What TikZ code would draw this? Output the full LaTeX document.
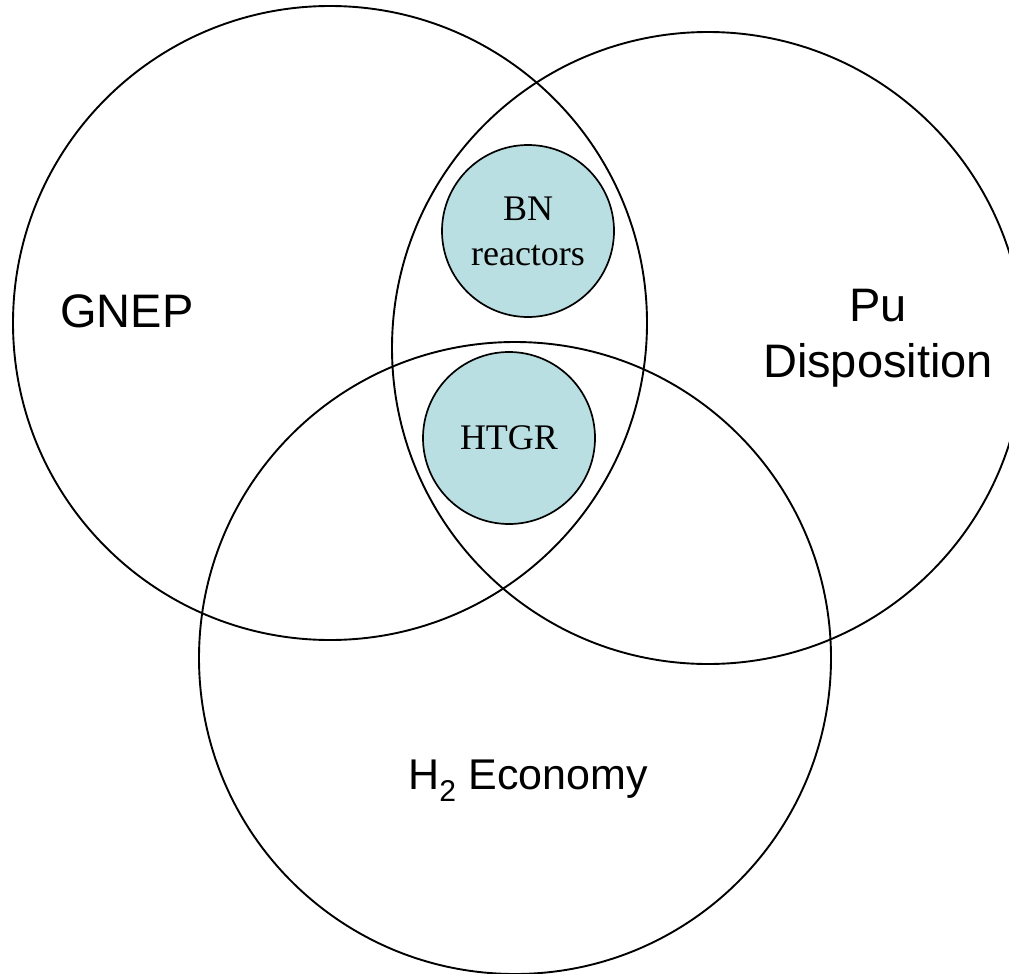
\documentclass[tikz,border=0pt]{standalone}
\usepackage{fontspec}
\setmainfont{Liberation Serif}
\newfontfamily\arialfont{Liberation Sans}
\definecolor{lensblue}{HTML}{B9DFE2}
\begin{document}
\begin{tikzpicture}[x=1pt,y=-1pt,
  bigset/.style={circle,draw=black,line width=1.9pt,minimum size=#1,inner sep=0pt},
  tech/.style={circle,draw=black,line width=1.7pt,fill=lensblue,minimum size=#1,inner sep=0pt,
    font=\fontsize{36}{45}\selectfont,align=center},
  setlabel/.style={font=\arialfont\fontsize{47}{56}\selectfont,align=center,inner sep=0pt}]
\useasboundingbox (0,0) rectangle (1009,974);
\clip (0,0) rectangle (1009,974);
\node[bigset=634pt] (gnep) at (330,323) {};
\node[bigset=632pt] (pu) at (708,348) {};
\node[bigset=632pt] (h2) at (515,658) {};
\node[tech=172pt] (bn) at (528,231) {BN\\reactors};
\node[tech=172pt] (htgr) at (509,438) {HTGR};
\node[setlabel,anchor=base west] (lg) at (60,327) {GNEP};
\node[setlabel] (lp) at (878,338) {Pu\\Disposition};
\node[setlabel,anchor=base,font=\arialfont\fontsize{43}{52}\selectfont] (lh) at (528,789) {H\textsubscript{2} Economy};
\end{tikzpicture}
\end{document}
